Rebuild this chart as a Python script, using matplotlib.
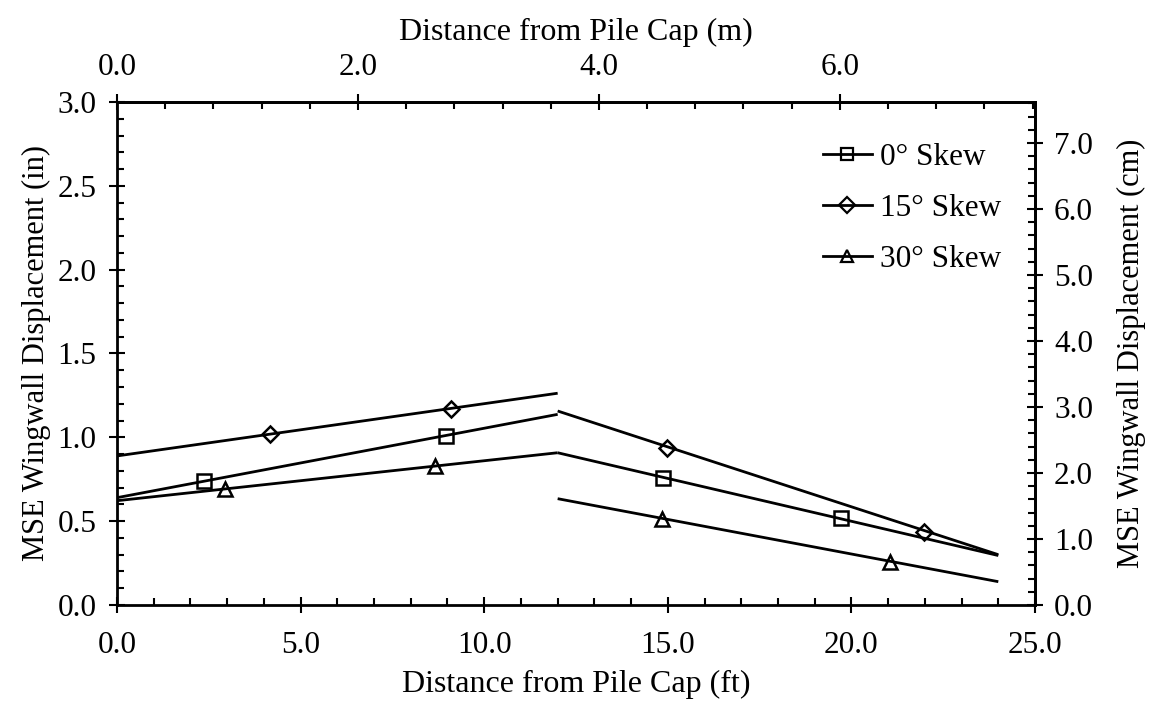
import matplotlib
matplotlib.use("Agg")
import matplotlib.pyplot as plt
from matplotlib.ticker import MultipleLocator, FixedLocator, FormatStrFormatter
from matplotlib.lines import Line2D
import numpy as np

# ---- data ----
labels = ["0° Skew", "15° Skew", "30° Skew"]
markers = ["s", "D", "^"]

# measured points (ft, in)
x_pts_0 = [2.37, 8.95, 14.88, 19.71]
y_pts_0 = [0.74, 1.01, 0.76, 0.52]
x_pts_15 = [4.16, 9.09, 14.99, 21.98]
y_pts_15 = [1.02, 1.17, 0.935, 0.437]
x_pts_30 = [2.94, 8.66, 14.83, 21.05]
y_pts_30 = [0.69, 0.83, 0.511, 0.258]

# trend line segments
x_left = [0.0, 12.0]
x_right = [12.0, 24.0]
y_left_0 = [0.64, 1.137]
y_right_0 = [0.908, 0.295]
y_left_15 = [0.889, 1.263]
y_right_15 = [1.157, 0.30]
y_left_30 = [0.622, 0.908]
y_right_30 = [0.634, 0.139]

# secondary-axis tick values
m_ticks = [0.0, 2.0, 4.0, 6.0]
cm_ticks = [0.0, 1.0, 2.0, 3.0, 4.0, 5.0, 6.0, 7.0]

FT2M = 0.3048
IN2CM = 2.54

plt.rcParams['font.family'] = ['Liberation Serif', 'DejaVu Serif']
FS_TICK = 22.5
FS_XLAB = 23
FS_YLAB = 22
FS_LEG = 22.5

fig = plt.figure(figsize=(11.54, 7.06), dpi=100)
ax = fig.add_axes([0.1014, 0.1431, 0.7955, 0.7124])

series = [
    (x_pts_0, y_pts_0, y_left_0, y_right_0),
    (x_pts_15, y_pts_15, y_left_15, y_right_15),
    (x_pts_30, y_pts_30, y_left_30, y_right_30),
]
LW = 2.0
for (xp, yp, yl, yr), mk in zip(series, markers):
    ax.plot(x_left, yl, color='black', lw=LW, solid_capstyle='butt', zorder=2)
    ax.plot(x_right, yr, color='black', lw=LW, solid_capstyle='butt', zorder=2)
    ms = 9.5 if mk == 's' else (8.5 if mk == 'D' else 10)
    ax.plot(xp, yp, linestyle='none', marker=mk, ms=ms, mfc='none',
            mec='black', mew=1.8, zorder=3)

ax.set_xlim(0, 25)
ax.set_ylim(0, 3.0)

for s in ax.spines.values():
    s.set_linewidth(2.0)

ax.xaxis.set_major_locator(MultipleLocator(5))
ax.xaxis.set_minor_locator(MultipleLocator(1))
ax.yaxis.set_major_locator(MultipleLocator(0.5))
ax.yaxis.set_minor_locator(MultipleLocator(0.1))
ax.xaxis.set_major_formatter(FormatStrFormatter('%.1f'))
ax.yaxis.set_major_formatter(FormatStrFormatter('%.1f'))

ax.tick_params(which='major', direction='inout', length=11.5, width=1.5,
               labelsize=FS_TICK)
ax.tick_params(axis='x', which='major', pad=13)
ax.tick_params(axis='y', which='major', pad=9)
ax.tick_params(which='minor', direction='in', length=5, width=1.5)
ax.tick_params(top=False, right=False, which='both')

ax.set_xlabel("Distance from Pile Cap (ft)", fontsize=FS_XLAB, labelpad=7)
ax.set_ylabel("MSE Wingwall Displacement (in)", fontsize=FS_YLAB, labelpad=5)

secx = ax.secondary_xaxis('top', functions=(lambda x: x * FT2M, lambda m: m / FT2M))
secx.xaxis.set_major_locator(FixedLocator(m_ticks))
secx.xaxis.set_minor_locator(FixedLocator(np.arange(0.4, 7.62, 0.4)))
secx.xaxis.set_major_formatter(FormatStrFormatter('%.1f'))
secx.tick_params(which='major', direction='inout', length=11.5, width=1.5,
                 labelsize=FS_TICK, pad=9)
secx.tick_params(which='minor', direction='in', length=5, width=1.5)
secx.spines['top'].set_linewidth(2.0)
secx.set_xlabel("Distance from Pile Cap (m)", fontsize=FS_XLAB, labelpad=9)

secy = ax.secondary_yaxis('right', functions=(lambda y: y * IN2CM, lambda c: c / IN2CM))
secy.yaxis.set_major_locator(FixedLocator(cm_ticks))
secy.yaxis.set_minor_locator(FixedLocator(np.arange(0.2, 7.62, 0.2)))
secy.yaxis.set_major_formatter(FormatStrFormatter('%.1f'))
secy.tick_params(which='major', direction='inout', length=11.5, width=1.5,
                 labelsize=FS_TICK, pad=8)
secy.tick_params(which='minor', direction='in', length=5, width=1.5)
secy.spines['right'].set_linewidth(2.0)
secy.set_ylabel("MSE Wingwall Displacement (cm)", fontsize=FS_YLAB, labelpad=17)

handles = [Line2D([0], [0], color='black', lw=LW, marker=mk, ms=8, mfc='none',
                  mec='black', mew=1.6) for mk in markers]
ax.legend(handles, labels, loc='upper left', bbox_to_anchor=(0.769, 0.919),
          frameon=False, fontsize=FS_LEG, handlelength=1.57, handletextpad=0.26,
          labelspacing=0.70, borderaxespad=0.0, borderpad=0.0)

fig.savefig("out.png", dpi=100)
